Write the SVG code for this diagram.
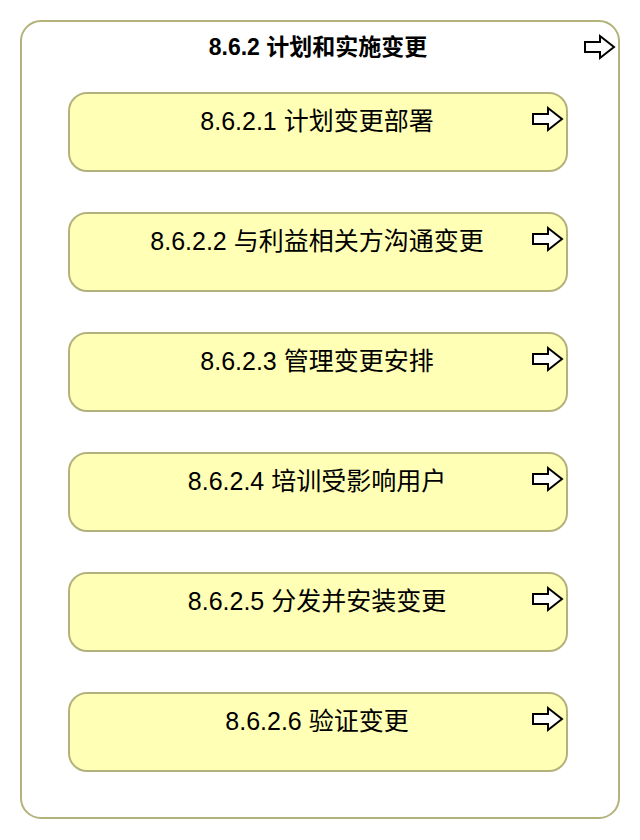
<svg xmlns="http://www.w3.org/2000/svg" width="640" height="840" viewBox="0 0 640 840">
<style>
.outer{fill:#ffffff;stroke:#b4b27c;stroke-width:2}
.box{fill:#ffffb5;stroke:#b4b27c;stroke-width:2}
.t{font-family:"Liberation Sans","Noto Sans CJK SC",sans-serif;font-size:25px;fill:#000;text-anchor:middle}
.tb{font-weight:bold;font-size:23px}
.arr{fill:#fff;stroke:#000;stroke-width:2;stroke-linejoin:miter}
</style>
<defs>
<path id="a" class="arr" d="M0,-5 H15 V-11 L29,0 L15,11 V5 H0 Z"/>
</defs>
<g id="outer">
<rect class="outer" x="21" y="21" width="598" height="797" rx="20"/>
<text class="t tb" x="318" y="55">8.6.2 计划和实施变更</text>
<use href="#a" x="585" y="47"/>
</g>
<g id="n1">
<rect class="box" x="69" y="93" width="498" height="78" rx="18"/>
<text class="t" x="317" y="130">8.6.2.1 计划变更部署</text>
<use href="#a" x="533" y="119"/>
</g>
<g id="n2">
<rect class="box" x="69" y="213" width="498" height="78" rx="18"/>
<text class="t" x="317" y="250">8.6.2.2 与利益相关方沟通变更</text>
<use href="#a" x="533" y="239"/>
</g>
<g id="n3">
<rect class="box" x="69" y="333" width="498" height="78" rx="18"/>
<text class="t" x="317" y="370">8.6.2.3 管理变更安排</text>
<use href="#a" x="533" y="359"/>
</g>
<g id="n4">
<rect class="box" x="69" y="453" width="498" height="78" rx="18"/>
<text class="t" x="317" y="490">8.6.2.4 培训受影响用户</text>
<use href="#a" x="533" y="479"/>
</g>
<g id="n5">
<rect class="box" x="69" y="573" width="498" height="78" rx="18"/>
<text class="t" x="317" y="610">8.6.2.5 分发并安装变更</text>
<use href="#a" x="533" y="599"/>
</g>
<g id="n6">
<rect class="box" x="69" y="693" width="498" height="78" rx="18"/>
<text class="t" x="317" y="730">8.6.2.6 验证变更</text>
<use href="#a" x="533" y="719"/>
</g>
<g id="connectors"></g>
</svg>
